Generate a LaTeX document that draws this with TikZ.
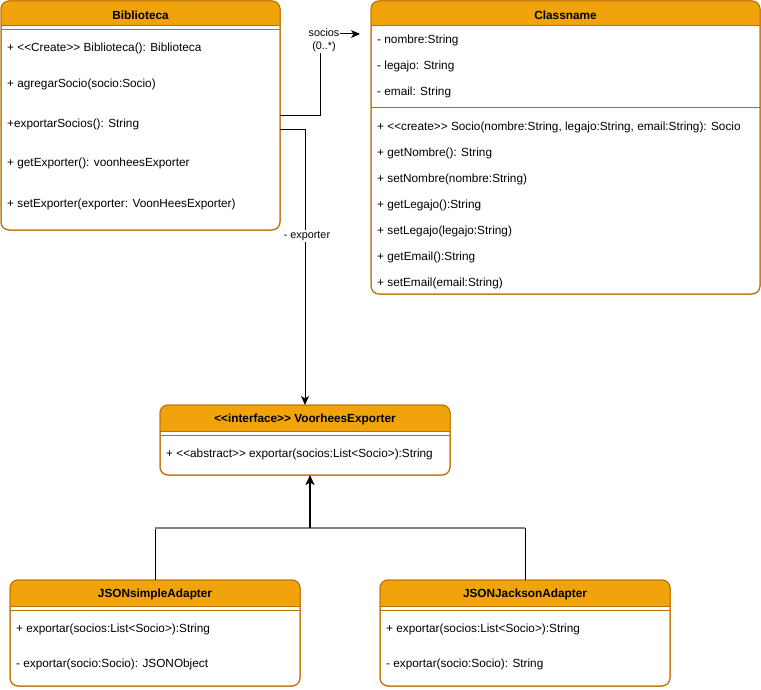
\documentclass[tikz,border=0pt]{standalone}
\usepackage{fontspec}
\setmainfont{Liberation Sans}
\usetikzlibrary{arrows.meta,positioning,calc}
\definecolor{hdrorange}{HTML}{F0A30A}
\definecolor{brdorange}{HTML}{BD7000}
\definecolor{genline}{HTML}{808080}
% header band + border of a class box
\newcommand{\classhdr}[2]{%
  \begin{scope}
    \clip[rounded corners=8pt] (#1.south west) rectangle (#1.north east);
    \fill[hdrorange] (#1.north west) rectangle ([yshift=-#2]#1.north east);
  \end{scope}
  \draw[boxline, rounded corners=8pt] (#1.south west) rectangle (#1.north east);
  \draw[boxline] ([yshift=-#2]#1.north west) -- ([yshift=-#2]#1.north east);
}

\begin{document}
\begin{tikzpicture}[
    x=1pt, y=-1pt,
    classbox/.style={rectangle, draw=brdorange, fill=white, rounded corners=8pt,
                     line width=1pt, inner sep=0pt, outer sep=0pt, anchor=north west},
    boxline/.style={draw=brdorange, line width=1pt},
    title/.style={font=\fontsize{11.8}{14}\selectfont\bfseries, inner sep=0pt},
    item/.style={font=\fontsize{11.8}{14}\selectfont, anchor=west, inner sep=0pt},
    lbl/.style={font=\fontsize{10.8}{13}\selectfont, fill=white, inner sep=1pt, align=center},
    arrow/.style={-{Stealth[length=9pt, width=8pt, inset=2.5pt]}, line width=1pt},
]
\useasboundingbox (0,0) rectangle (761,690);

% Biblioteca
\node[classbox, minimum width=279pt, minimum height=229pt] (bib) at (1,1) {};
\classhdr{bib}{25pt}
\draw[boxline] (1,30) -- (280,30);
\node[title] (bibtitle) at (140.5,15) {Biblioteca};
\node[item] (bibm1) at (7,48) {+ \textless{}\textless{}Create\textgreater{}\textgreater{} Biblioteca(): Biblioteca};
\node[item] (bibm2) at (7,84) {+ agregarSocio(socio:Socio)};
\node[item] (bibm3) at (7,124) {+exportarSocios(): String};
\node[item] (bibm4) at (7,163) {+ getExporter(): voonheesExporter};
\node[item] (bibm5) at (7,204) {+ setExporter(exporter: VoonHeesExporter)};

% Classname (Socio)
\node[classbox, minimum width=389pt, minimum height=293pt] (cls) at (371,1) {};
\classhdr{cls}{25pt}
\draw[boxline] (371,108) -- (760,108);
\node[title] (clstitle) at (565.5,15) {Classname};
\node[item] (clsa1) at (377,40) {- nombre:String};
\node[item] (clsa2) at (377,66) {- legajo: String};
\node[item] (clsa3) at (377,92) {- email: String};
\node[item] (clsm1) at (377,127) {+ \textless{}\textless{}create\textgreater{}\textgreater{} Socio(nombre:String, legajo:String, email:String): Socio};
\node[item] (clsm2) at (377,153) {+ getNombre(): String};
\node[item] (clsm3) at (377,179) {+ setNombre(nombre:String)};
\node[item] (clsm4) at (377,205) {+ getLegajo():String};
\node[item] (clsm5) at (377,231) {+ setLegajo(legajo:String)};
\node[item] (clsm6) at (377,257) {+ getEmail():String};
\node[item] (clsm7) at (377,283) {+ setEmail(email:String)};

% VoorheesExporter
\node[classbox, minimum width=290pt, minimum height=70pt] (iface) at (160,405) {};
\classhdr{iface}{26pt}
\draw[boxline] (160,435) -- (450,435);
\node[title] (ifacetitle) at (305,419) {\textless{}\textless{}interface\textgreater{}\textgreater{} VoorheesExporter};
\node[item] (ifacem1) at (166,454) {+ \textless{}\textless{}abstract\textgreater{}\textgreater{} exportar(socios:List\textless{}Socio\textgreater{}):String};

% Adapters
\node[classbox, minimum width=290pt, minimum height=106pt] (simple) at (10,580) {};
\classhdr{simple}{26pt}
\draw[boxline] (10,610) -- (300,610);
\node[title] (simpletitle) at (155,594) {JSONsimpleAdapter};
\node[item] (simplem1) at (16,629) {+ exportar(socios:List\textless{}Socio\textgreater{}):String};
\node[item] (simplem2) at (16,664) {- exportar(socio:Socio): JSONObject};

\node[classbox, minimum width=290pt, minimum height=106pt] (jackson) at (380,580) {};
\classhdr{jackson}{26pt}
\draw[boxline] (380,610) -- (670,610);
\node[title] (jacksontitle) at (525,594) {JSONJacksonAdapter};
\node[item] (jacksonm1) at (386,629) {+ exportar(socios:List\textless{}Socio\textgreater{}):String};
\node[item] (jacksonm2) at (386,664) {- exportar(socio:Socio): String};

% Connectors
\coordinate (sociosend) at (360,34);
\coordinate (bibexp) at (280,130);
\coordinate (genjoin) at (310,528);

\draw[arrow] (bib.east) -| (320,34) -- (sociosend);
\node[lbl] (socioslbl) at (324,40.5) {socios\\(0..*)};

\draw[arrow] (bibexp) -| (iface.north);
\node[lbl] (explbl) at (307,236) {- exporter};

\draw[line width=1pt] (simple.north) -- (simple.north |- genjoin);
\draw[line width=1pt] (jackson.north) -- (jackson.north |- genjoin);
\draw[genline, line width=2pt] (simple.north |- genjoin) -- (jackson.north |- genjoin);
\draw[-{Stealth[length=10pt, width=9pt, inset=2.5pt]}, line width=2pt] (genjoin) -- (genjoin |- iface.south);

\end{tikzpicture}
\end{document}
